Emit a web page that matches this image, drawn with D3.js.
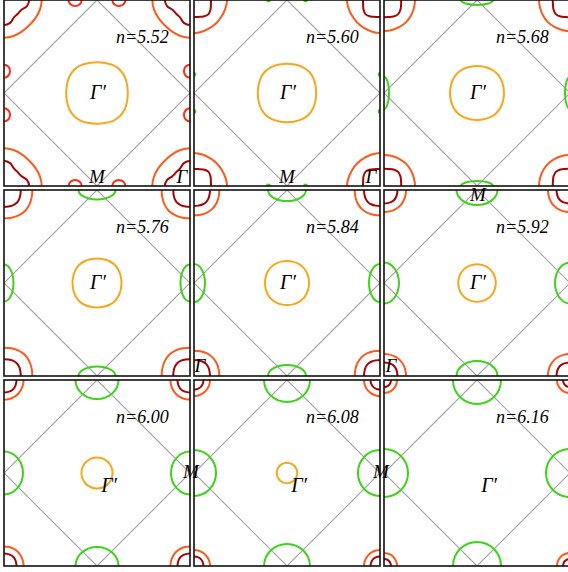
<!DOCTYPE html>
<html>
<head>
<meta charset="utf-8">
<script src="https://cdn.jsdelivr.net/npm/d3@7"></script>
<style>
  body { margin: 0; background: #fff; }
  svg { display: block; }
  text { font-family: "Liberation Serif", "Times New Roman", serif; font-style: italic; fill: #000; }
</style>
</head>
<body>
<div id="chart"></div>
<script>

// band filling of each panel
const fillings = ["5.52", "5.60", "5.68", "5.76", "5.84", "5.92", "6.00", "6.08", "6.16"];

// radii sampled at these angles (deg), mirrored round the other octants.
// unit = half a panel (distance from Γ' to M)
const sampleAngles = [0, 15, 30, 45];

// pocket round Γ' (centre of the panel)
const gammaPrimeRadius = [
    [0.331, 0.335, 0.345, 0.350],
    [0.314, 0.317, 0.325, 0.330],
    [0.290, 0.292, 0.297, 0.300],
    [0.263, 0.265, 0.270, 0.273],
    [0.237, 0.238, 0.240, 0.242],
    [0.202, 0.202, 0.203, 0.204],
    [0.167, 0.167, 0.167, 0.167],
    [0.110, 0.110, 0.110, 0.110],
    null
];

// outer pocket round Γ (panel corners)
const gammaOuterRadius = [
    [0.405, 0.400, 0.390, 0.385],
    [0.355, 0.350, 0.345, 0.345],
    [0.333, 0.333, 0.335, 0.337],
    [0.305, 0.308, 0.315, 0.320],
    [0.272, 0.275, 0.280, 0.283],
    [0.237, 0.238, 0.240, 0.242],
    [0.210, 0.211, 0.212, 0.213],
    [0.172, 0.172, 0.172, 0.172],
    [0.140, 0.140, 0.140, 0.140]
];

// inner pocket round Γ
const gammaInnerRadius = [
    [0.270, 0.255, 0.215, 0.210],
    [0.183, 0.188, 0.205, 0.218],
    [0.185, 0.190, 0.205, 0.215],
    [0.180, 0.183, 0.190, 0.194],
    [0.172, 0.174, 0.180, 0.184],
    [0.145, 0.146, 0.150, 0.153],
    [0.134, 0.135, 0.138, 0.140],
    [0.102, 0.102, 0.103, 0.104],
    [0.075, 0.075, 0.076, 0.076]
];

// pockets on the zone edges, near M
const pocketBand = ["c", "d", "d", "d", "d", "d", "d", "d", "d"];
const pocketOffset = [0.235, 0.199, 0, 0, 0, 0, 0, 0, 0];
const pocketAlong = [0.070, 0.015, 0.172, 0.199, 0.204, 0.220, 0.231, 0.247, 0.258];
const pocketAcross = [0.065, 0.015, 0.054, 0.102, 0.118, 0.161, 0.204, 0.237, 0.258];


const width = 568;
const height = 572;
const size = 186;
const step = 190;
const left0 = 4;

const colour = {
    gammaPrime: "#f6a71d",
    outer: "#fd5a1e",
    inner: "#a50505",
    c: "#ff2c1c",
    d: "#3ed21a"
};

const svg = d3.select("#chart")
    .append("svg")
    .attr("width", width)
    .attr("height", height);

const xScale = d3.scaleLinear().domain([-1, 1]).range([0, size]);
const yScale = d3.scaleLinear().domain([-1, 1]).range([size, 0]);

const line = d3.line()
    .x(function(d) { return xScale(d[0]); })
    .y(function(d) { return yScale(d[1]); })
    .curve(d3.curveCatmullRomClosed.alpha(0.5));

const zoneLine = d3.line()
    .x(function(d) { return xScale(d[0]); })
    .y(function(d) { return yScale(d[1]); })
    .curve(d3.curveLinearClosed);

function shape(radii, cx, cy) {
    return d3.range(0, 360, 15).map(function(a) {
        let m = a % 90;
        if (m > 45) m = 90 - m;
        const r = radii[sampleAngles.indexOf(m)];
        const t = a * Math.PI / 180;
        return [cx + r * Math.cos(t), cy + r * Math.sin(t)];
    });
}

const corners = [[-1, -1], [1, -1], [-1, 1], [1, 1]];

fillings.forEach(function(n, i) {
    const col = i % 3;
    const row = Math.floor(i / 3);

    const g = svg.append("g")
        .attr("transform", `translate(${left0 + col * step},${row * step})`);

    g.append("clipPath")
        .attr("id", "clip" + i)
        .append("rect")
        .attr("width", size)
        .attr("height", size);

    const inner = g.append("g").attr("clip-path", `url(#clip${i})`);

    // zone boundary
    inner.append("path")
        .attr("d", zoneLine([[0, 1], [1, 0], [0, -1], [-1, 0]]))
        .attr("fill", "none")
        .attr("stroke", "#a2a2a2")
        .attr("stroke-width", 1.1);

    // Γ pockets at the corners
    corners.forEach(function(c) {
        inner.append("path")
            .attr("d", line(shape(gammaOuterRadius[i], c[0], c[1])))
            .attr("fill", "none")
            .attr("stroke", colour.outer)
            .attr("stroke-width", 2);
        inner.append("path")
            .attr("d", line(shape(gammaInnerRadius[i], c[0], c[1])))
            .attr("fill", "none")
            .attr("stroke", colour.inner)
            .attr("stroke-width", 2);
    });

    // pockets on the edges
    const o = pocketOffset[i];
    const offs = o > 0 ? [-o, o] : [0];
    const edgePockets = [];
    offs.forEach(function(s) {
        edgePockets.push({cx: s, cy: 1, rx: pocketAlong[i], ry: pocketAcross[i]});
        edgePockets.push({cx: s, cy: -1, rx: pocketAlong[i], ry: pocketAcross[i]});
        edgePockets.push({cx: -1, cy: s, rx: pocketAcross[i], ry: pocketAlong[i]});
        edgePockets.push({cx: 1, cy: s, rx: pocketAcross[i], ry: pocketAlong[i]});
    });
    inner.selectAll("ellipse")
        .data(edgePockets)
        .enter()
        .append("ellipse")
        .attr("cx", function(d) { return xScale(d.cx); })
        .attr("cy", function(d) { return yScale(d.cy); })
        .attr("rx", function(d) { return xScale(d.rx) - xScale(0); })
        .attr("ry", function(d) { return xScale(d.ry) - xScale(0); })
        .attr("fill", pocketBand[i] === "d" && o > 0 ? colour.d : "none")
        .attr("stroke", colour[pocketBand[i]])
        .attr("stroke-width", 2);

    // Γ' pocket
    if (gammaPrimeRadius[i]) {
        inner.append("path")
            .attr("d", line(shape(gammaPrimeRadius[i], 0, 0)))
            .attr("fill", "none")
            .attr("stroke", colour.gammaPrime)
            .attr("stroke-width", 2);
    }

    g.append("rect")
        .attr("width", size)
        .attr("height", size)
        .attr("fill", "none")
        .attr("stroke", "#111")
        .attr("stroke-width", 1.6);

    g.append("text")
        .attr("x", 112)
        .attr("y", 43)
        .attr("font-size", 18)
        .text("n=" + n);

    const lowRow = row === 2;
    g.append("text")
        .attr("x", xScale(lowRow ? 0.13 : 0.01))
        .attr("y", yScale(lowRow ? -0.2 : -0.065))
        .attr("text-anchor", "middle")
        .attr("font-size", 20)
        .text("Γ′");
});

// symmetry point labels, placed on the whole figure
const pointLabels = [
    {t: "M", x: 97, y: 183},
    {t: "Γ", x: 182, y: 183},
    {t: "M", x: 287, y: 183},
    {t: "Γ", x: 371, y: 183},
    {t: "M", x: 478, y: 201},
    {t: "Γ", x: 200, y: 372},
    {t: "Γ", x: 391, y: 372},
    {t: "M", x: 191, y: 478},
    {t: "M", x: 381, y: 478}
];

svg.selectAll("text.pt")
    .data(pointLabels)
    .enter()
    .append("text")
    .attr("class", "pt")
    .attr("x", function(d) { return d.x; })
    .attr("y", function(d) { return d.y; })
    .attr("text-anchor", "middle")
    .attr("font-size", 19)
    .text(function(d) { return d.t; });

</script>
</body>
</html>
